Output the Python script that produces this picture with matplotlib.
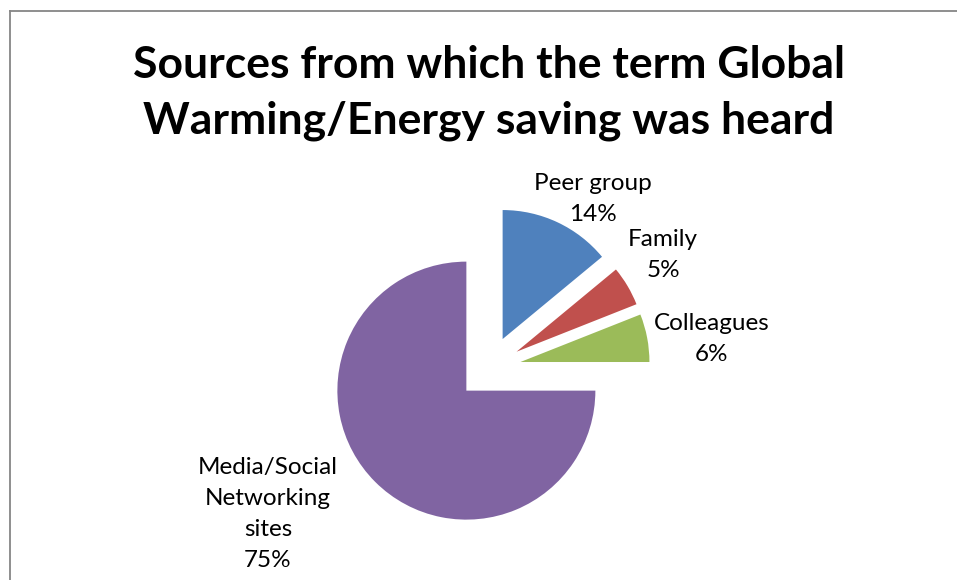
import matplotlib.pyplot as plt
from matplotlib.lines import Line2D

labels = ["Peer group", "Family", "Colleagues", "Media/Social\nNetworking\nsites"]
shares = [14, 5, 6, 75]
colors = ["#4F81BD", "#C0504D", "#9BBB59", "#8064A2"]

W, H = 957, 580
plt.rcParams["font.family"] = ["Lato", "DejaVu Sans"]

fig = plt.figure(figsize=(W / 100, H / 100), dpi=100)
ax = fig.add_axes([0, 0, 1, 1])

cx, cy, r = 489, H - 368, 129
wedges, _ = ax.pie(shares, colors=colors, startangle=90, counterclock=False,
                   explode=[32] * 4, center=(cx, cy), radius=r,
                   wedgeprops=dict(linewidth=0))
ax.set_xlim(0, W)
ax.set_ylim(0, H)
ax.set_aspect("equal")
ax.axis("off")

# data labels: category name + percentage
label_pos = [(593, 199), (663, 255), (712, 339), (268, 514)]
for lab, val, (x, y) in zip(labels, shares, label_pos):
    ax.text(x, H - y, f"{lab}\n{val}%", ha="center", va="center",
            fontsize=17.5, linespacing=1.6)

fig.text(cx / W, 1 - 93 / H, "Sources from which the term Global\nWarming/Energy saving was heard",
         ha="center", va="center", fontsize=32, fontweight="bold", linespacing=1.47)

# chart area border (left and top edges)
fig.add_artist(Line2D([10 / W, 10 / W], [0, 1 - 11 / H], transform=fig.transFigure,
                      color="#868686", linewidth=1.3))
fig.add_artist(Line2D([10 / W, 1], [1 - 11 / H, 1 - 11 / H], transform=fig.transFigure,
                      color="#868686", linewidth=1.3))

fig.savefig("out.png", dpi=100, facecolor="white")
